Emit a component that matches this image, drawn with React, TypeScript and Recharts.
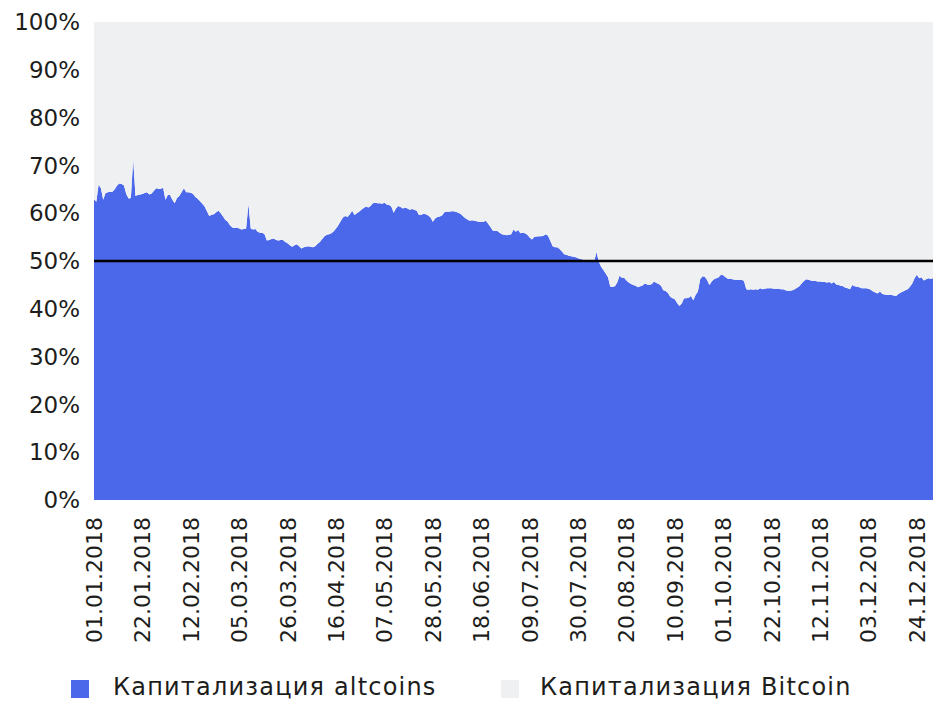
import { AreaChart, Area, XAxis, YAxis, ReferenceLine } from "recharts";

// Доля капитализации альткоинов, % (ежедневно, 01.01.2018 — 31.12.2018)
const altcoins = [
  62.9, 62.4, 66.0, 65.2, 62.8, 64.2, 64.4, 64.5, 64.5, 65.0,
  65.8, 66.2, 66.1, 65.8, 64.0, 63.1, 63.2, 71.3, 63.6, 63.8,
  63.9, 64.0, 64.2, 64.4, 63.9, 64.1, 64.7, 65.2, 65.1, 65.1,
  65.3, 62.8, 63.8, 63.8, 62.8, 62.1, 63.2, 63.6, 64.4, 65.2,
  64.4, 64.4, 64.3, 64.0, 63.4, 63.0, 62.5, 62.0, 61.4, 60.4,
  59.4, 59.7, 59.8, 60.2, 60.5, 60.0, 59.3, 58.6, 58.2, 57.5,
  57.0, 56.9, 57.0, 56.8, 56.6, 56.7, 56.8, 61.9, 56.8, 56.6,
  56.7, 56.1, 55.9, 55.9, 55.6, 54.3, 54.4, 54.6, 54.7, 54.4,
  54.3, 54.4, 54.4, 54.0, 53.7, 53.3, 53.0, 53.3, 53.5, 53.1,
  52.6, 52.9, 53.0, 53.1, 53.0, 52.9, 53.1, 53.6, 54.0, 54.6,
  55.2, 55.5, 55.6, 55.8, 56.2, 56.8, 57.5, 58.3, 59.1, 59.4,
  59.2, 59.8, 60.5, 59.6, 60.0, 60.3, 60.7, 61.1, 61.4, 61.2,
  61.5, 62.1, 62.2, 62.1, 62.1, 62.0, 62.2, 61.8, 61.7, 61.4,
  60.1, 61.0, 61.5, 61.3, 61.0, 61.2, 61.0, 60.7, 60.9, 60.7,
  60.5, 59.6, 59.7, 59.9, 59.8, 59.5, 59.1, 58.2, 58.9, 59.2,
  59.3, 59.5, 60.2, 60.3, 60.3, 60.4, 60.4, 60.3, 60.1, 59.9,
  59.4, 59.0, 58.7, 58.4, 58.5, 58.4, 58.3, 58.2, 58.2, 58.2,
  58.4, 57.8, 57.1, 56.4, 56.3, 56.3, 55.9, 55.6, 55.5, 55.4,
  55.5, 55.6, 56.6, 56.1, 56.5, 55.8, 55.9, 55.8, 55.5, 54.9,
  54.5, 55.0, 55.1, 55.2, 55.2, 55.3, 55.6, 55.3, 54.2, 53.1,
  52.9, 52.9, 52.5, 52.0, 51.4, 51.3, 51.1, 51.0, 50.9, 50.8,
  50.6, 50.4, 50.3, 50.2, 49.9, 49.9, 49.8, 49.9, 51.9, 49.9,
  48.8, 48.1, 47.4, 46.6, 44.6, 44.6, 44.7, 45.5, 46.9, 46.5,
  46.5, 45.9, 45.5, 45.2, 45.0, 44.8, 44.5, 44.7, 44.9, 45.3,
  45.1, 45.0, 45.2, 45.7, 45.4, 45.2, 44.8, 43.9, 43.7, 43.3,
  42.5, 42.2, 42.0, 41.2, 40.6, 41.1, 42.2, 42.2, 42.3, 42.7,
  41.8, 42.9, 43.6, 46.2, 46.8, 46.7, 46.0, 45.0, 45.7, 46.2,
  46.4, 46.6, 47.1, 47.0, 46.6, 46.3, 46.3, 46.2, 46.1, 46.0,
  46.1, 46.1, 45.8, 44.1, 44.0, 44.1, 44.0, 44.1, 44.0, 44.3,
  44.1, 44.2, 44.3, 44.3, 44.3, 44.2, 44.2, 44.2, 44.1, 44.1,
  43.9, 43.8, 43.8, 43.9, 44.1, 44.4, 44.7, 45.3, 45.8, 46.2,
  46.1, 45.9, 45.8, 45.8, 45.7, 45.7, 45.6, 45.6, 45.5, 45.6,
  45.3, 45.6, 45.1, 45.0, 44.8, 44.7, 44.4, 44.3, 44.1, 45.0,
  44.7, 44.6, 44.5, 44.3, 44.3, 44.3, 44.2, 44.0, 43.6, 43.4,
  43.2, 43.6, 43.1, 43.0, 42.9, 42.9, 42.9, 42.8, 42.7, 43.1,
  43.4, 43.6, 43.9, 44.1, 44.6, 45.3, 46.4, 47.1, 46.4, 46.6,
  45.9, 46.2, 46.4, 46.3, 46.4,
];

const yTicks = [0, 10, 20, 30, 40, 50, 60, 70, 80, 90, 100];

const ALT_COLOR = "#4b67ea";
const BTC_COLOR = "#eff0f2";
const TEXT_COLOR = "#1d1d1b";
const FONT = "'DejaVu Sans', sans-serif";

function formatDate(index: number): string {
  const d = new Date(Date.UTC(2018, 0, 1 + index));
  const dd = String(d.getUTCDate()).padStart(2, "0");
  const mm = String(d.getUTCMonth() + 1).padStart(2, "0");
  return `${dd}.${mm}.${d.getUTCFullYear()}`;
}

const chartData = altcoins.map((alt, i) => ({
  date: formatDate(i),
  altcoins: alt,
  bitcoin: +(100 - alt).toFixed(1),
}));

function DateTick({ x, y, payload }: any) {
  return (
    <g transform={`translate(${x},${y})`}>
      <text
        transform="rotate(-90)"
        x={-9}
        y={0}
        dy="0.36em"
        textAnchor="end"
        fill={TEXT_COLOR}
        fontSize={22}
        fontFamily={FONT}
      >
        {payload.value}
      </text>
    </g>
  );
}

function LegendItem({
  left,
  gap,
  color,
  label,
}: {
  left: number;
  gap: number;
  color: string;
  label: string;
}) {
  return (
    <div style={{ position: "absolute", left, top: 674, display: "flex", alignItems: "center" }}>
      <div style={{ width: 18, height: 18, background: color, marginTop: 4 }} />
      <span
        style={{
          marginLeft: gap,
          fontFamily: FONT,
          fontSize: 24,
          letterSpacing: 1.2,
          color: TEXT_COLOR,
          lineHeight: "26px",
          whiteSpace: "nowrap",
        }}
      >
        {label}
      </span>
    </div>
  );
}

export default function App() {
  return (
    <div style={{ position: "absolute", left: 0, top: 0, width: 933, height: 703, background: "#fff" }}>
      <AreaChart
        width={933}
        height={670}
        data={chartData}
        margin={{ top: 22, right: 0, left: 0, bottom: 20 }}
      >
        <XAxis
          dataKey="date"
          interval={20}
          height={150}
          axisLine={false}
          tickLine={false}
          tickSize={6}
          tickMargin={2}
          tick={<DateTick />}
        />
        <YAxis
          width={94}
          domain={[0, 100]}
          ticks={yTicks}
          axisLine={false}
          tickLine={false}
          tickSize={0}
          tickMargin={14}
          tickFormatter={(v: number) => `${v}%`}
          tick={{ fill: TEXT_COLOR, fontSize: 23, fontFamily: FONT }}
        />
        <Area
          type="linear"
          dataKey="altcoins"
          stackId="1"
          stroke="none"
          fill={ALT_COLOR}
          fillOpacity={1}
          isAnimationActive={false}
        />
        <Area
          type="linear"
          dataKey="bitcoin"
          stackId="1"
          stroke="none"
          fill={BTC_COLOR}
          fillOpacity={1}
          isAnimationActive={false}
        />
        <ReferenceLine y={50} stroke="#000" strokeWidth={2.5} />
      </AreaChart>
      <LegendItem left={71} gap={24} color={ALT_COLOR} label="Капитализация altcoins" />
      <LegendItem left={501} gap={21} color={BTC_COLOR} label="Капитализация Bitcoin" />
    </div>
  );
}
